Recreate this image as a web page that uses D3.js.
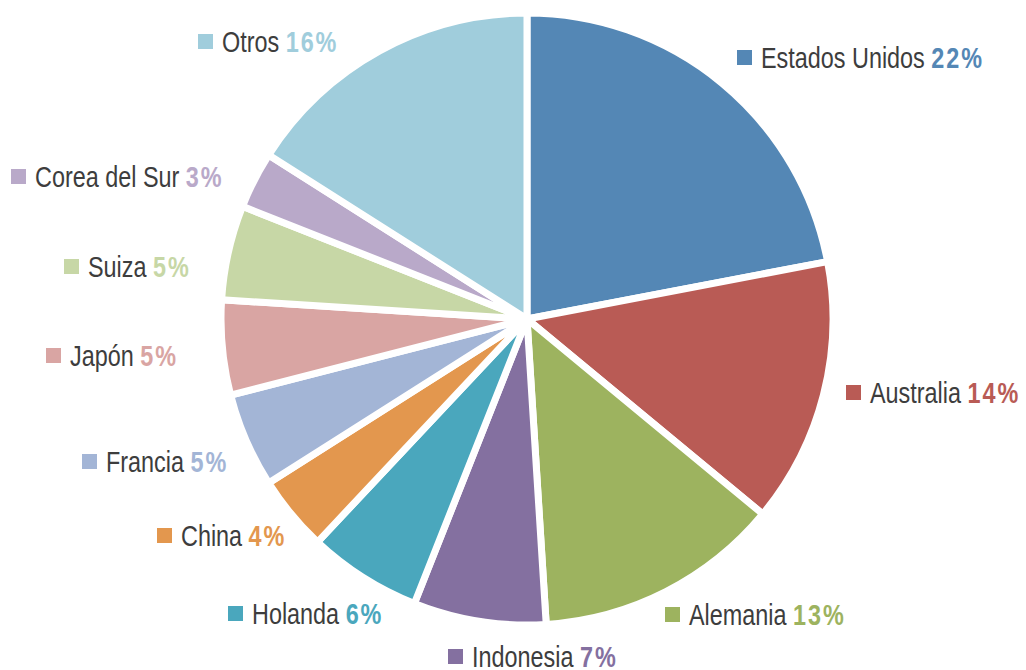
<!DOCTYPE html>
<html>
<head>
<meta charset="utf-8">
<script src="https://cdn.jsdelivr.net/npm/d3@7"></script>
<style>
  body { margin: 0; background: #fff; }
  svg { display: block; }
</style>
</head>
<body>
<div class="canvas"></div>
<script>
// !--------------------------------------------------------------data content below

const countries = [
  'Estados Unidos', 'Australia', 'Alemania', 'Indonesia', 'Holanda',
  'China', 'Francia', 'Japón', 'Suiza', 'Corea del Sur', 'Otros'
];
const shares = [22, 14, 13, 7, 6, 4, 5, 5, 5, 3, 16];
const colors = [
  '#5487b5', '#b95b55', '#9db35f', '#8470a0', '#4aa7bd',
  '#e3974e', '#a3b5d6', '#d9a5a3', '#c7d7a6', '#b9a9c9', '#a0cddc'
];

// label anchor (left of the little square, text baseline)
const labelPos = [
  [737, 68], [846, 403], [665, 625], [448, 667], [228, 624],
  [157, 546], [82, 472], [46, 366], [64, 277], [11, 187], [198, 52]
];

const data = countries.map((c, i) => ({ key: c, value: shares[i] }));

// !----------------------------------------------------------graph content below

const dims = { width: 1026, height: 670, radius: 306 };
const cent = { x: 527, y: 319 };
// narrow look: arial metrics squeezed horizontally
const fontFamily = '"Liberation Sans", Arial, sans-serif';
const squeeze = 0.78;

const svg = d3.select('.canvas')
  .append('svg')
  .attr('width', dims.width)
  .attr('height', dims.height);

const graph = svg.append('g')
  .attr('transform', `translate(${cent.x}, ${cent.y})`);

const color = d3.scaleOrdinal().domain(countries).range(colors);

const pie = d3.pie().sort(null).value((d) => d.value);

const arcPath = d3.arc().outerRadius(dims.radius).innerRadius(0);

graph.selectAll('path')
  .data(pie(data))
  .enter()
  .append('path')
  .attr('d', arcPath)
  .attr('fill', (d) => color(d.data.key))
  .attr('stroke', '#fff')
  .attr('stroke-width', 7)
  .attr('stroke-linejoin', 'round');

// legend labels
const labels = svg.append('g').selectAll('g')
  .data(data)
  .enter()
  .append('g')
  .attr('transform', (d, i) => `translate(${labelPos[i][0]}, ${labelPos[i][1]})`);

labels.append('rect')
  .attr('x', 0)
  .attr('y', -18)
  .attr('width', 15)
  .attr('height', 15)
  .attr('fill', (d) => color(d.key));

const txt = labels.append('text')
  .attr('transform', `translate(24, 0) scale(${squeeze}, 1)`)
  .attr('font-family', fontFamily)
  .attr('font-size', '30px');

txt.append('tspan')
  .attr('fill', '#3d3d3d')
  .text((d) => d.key + ' ');

txt.append('tspan')
  .attr('fill', (d) => color(d.key))
  .attr('font-weight', 'bold')
  .attr('letter-spacing', 2.5)
  .text((d) => d.value + '%');
</script>
</body>
</html>
